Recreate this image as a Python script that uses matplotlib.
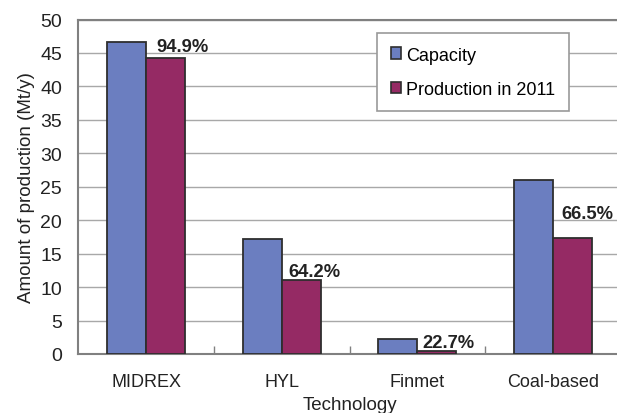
import matplotlib
matplotlib.use("Agg")
import matplotlib.pyplot as plt
import numpy as np
from matplotlib.patches import Patch

categories = ["MIDREX", "HYL", "Finmet", "Coal\u2010based"]
capacity = [46.7, 17.2, 2.2, 26.0]
production = [44.3, 11.0, 0.5, 17.3]
pct_labels = ["94.9%", "64.2%", "22.7%", "66.5%"]
yticks = [0, 5, 10, 15, 20, 25, 30, 35, 40, 45, 50]

# label offsets in pixels (x from production bar left, y above bar top)
label_offsets = [(10, 5), (7, 3), (5, 2), (8, 19)]

plt.rcParams['font.family'] = ['Liberation Sans', 'DejaVu Sans']

fig = plt.figure(figsize=(6.17, 4.14), dpi=100)
ax = fig.add_axes([77.5/617, 59/414, (617-77.5)/617 + 0.01, (355-20.5)/414])

x = np.arange(len(categories))
w = 0.287
blue = "#6B7EC0"
maroon = "#952A64"
edge = "#2E2E2E"

ax.bar(x - w/2, capacity, w, color=blue, edgecolor=edge, linewidth=1.3, zorder=3, label="Capacity")
ax.bar(x + w/2, production, w, color=maroon, edgecolor=edge, linewidth=1.3, zorder=3, label="Production in 2011")

for i, (lab, (dx, dy)) in enumerate(zip(pct_labels, label_offsets)):
    ax.annotate(lab, xy=(x[i], production[i]), xytext=(dx*0.72, dy*0.72 + 1),
                textcoords="offset points", ha="left", va="baseline",
                fontsize=13.2, fontweight="bold", color="#222222", zorder=4)

ax.set_xlim(-0.505, 3.471 + 0.01 * 617 / 135.7)
ax.set_ylim(0, 50)
ax.set_yticks(yticks)
ax.set_yticklabels([str(t) for t in yticks], fontsize=14, color="#222222")
ax.set_xticks(x)
ax.set_xticklabels(categories, fontsize=13, color="#222222")
ax.set_xticks(x[:-1] + 0.5, minor=True)
ax.tick_params(axis="x", which="major", length=0, pad=14)
ax.tick_params(axis="x", which="minor", direction="in", length=6, color="#808080", width=1)
ax.tick_params(axis="y", length=0, pad=11)

ax.yaxis.grid(True, color="#A8A8A8", linewidth=1, zorder=0)
ax.set_axisbelow(True)
for s in ["left", "bottom", "top"]:
    ax.spines[s].set_color("#808080")
    ax.spines[s].set_linewidth(1.5)
ax.spines["right"].set_visible(False)

ax.set_ylabel("Amount of production (Mt/y)", fontsize=13.5, color="#222222", labelpad=4)
ax.set_xlabel("Technology", fontsize=13.5, color="#222222", labelpad=4)

handles = [Patch(facecolor=blue, edgecolor=edge, linewidth=1.2),
           Patch(facecolor=maroon, edgecolor=edge, linewidth=1.2)]
leg = ax.legend(handles, ["Capacity", "Production in 2011"], loc="upper left",
                bbox_to_anchor=((377-77.5)/((617-77.5)*1.0115), (355-34)/(355-20.5)),
                fontsize=13, frameon=True, fancybox=False, framealpha=1,
                edgecolor="#999999", handlelength=0.6, handleheight=0.6,
                handletextpad=0.25, labelspacing=0.95, borderpad=0.75, borderaxespad=0)
leg.get_frame().set_linewidth(1.2)

fig.savefig("out.png", dpi=100)
